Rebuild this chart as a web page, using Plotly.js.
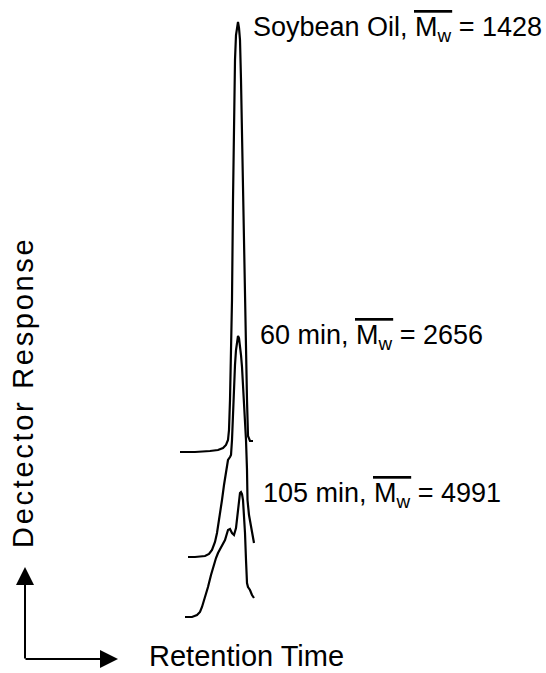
<!DOCTYPE html>
<html><head><meta charset="utf-8">
<script src="https://cdn.plot.ly/plotly-3.0.1.min.js"></script>
<style>html,body{margin:0;padding:0;background:#fff}</style>
</head><body>
<div id="chart" style="width:546px;height:673px"></div>
<script>
// Retention time (arbitrary units) and detector response (arbitrary units)
const soyTime = [180,195,210,218,223,226,228,229,230,232,233,234,235,236,237,238,239,240,241,242,243,244,245,246,247,248,249,250,253];
const soyResp = [221,221,222,223,225,228,233,243,273,373,473,553,613,638,648,651,645,633,593,533,473,423,373,323,273,237,233,232,232];

const min60Time = [188,195,205,209,212,215,217,220,222,224,226,228,230,231,232,233,234,235,236,237,238,239,240,241,242,243,244,245,246,247,247.5,249,251,253,254];
const min60Resp = [116,116,117,119,123,131,140,158,173,188,203,213,216,218,233,263,288,308,323,333,337,335,328,318,306,288,275,263,233,203,173,158,145,135,130];

const min105Time = [185,192,197,200,202,205,208,211,213,216,218,222,225,228,230,232,234,236,237,238,239,240,241,242,243,244,245,246,247,248,250,252,254];
const min105Resp = [56,56,58,61,66,75,86,98,106,115,120,127,133,143,144,140,138,145,153,166,175,180,181,179,173,158,140,113,90,86,83,78,75];

const seriesNames = ["Soybean Oil", "60 min", "105 min"];
const mwValues = [1428, 2656, 4991];
const xLabel = "Retention Time";
const yLabel = "Dectector Response";

const lineStyle = {color: "#000", width: 2.2};
const traces = [
  {x: soyTime, y: soyResp, name: seriesNames[0]},
  {x: min60Time, y: min60Resp, name: seriesNames[1]},
  {x: min105Time, y: min105Resp, name: seriesNames[2]}
].map(t => Object.assign(t, {type: "scatter", mode: "lines", line: lineStyle, hoverinfo: "skip"}));

const FAMILY = "Liberation Sans";
const font = {family: FAMILY + ", Arial, Helvetica, sans-serif", color: "#000"};
const LABEL_SIZE = 27;

// measure text widths so the overline bar sits exactly over "Mw"
const ctx = document.createElement("canvas").getContext("2d");
function textWidth(str, size) { ctx.font = size + "px '" + FAMILY + "'"; return ctx.measureText(str).width; }

const annotations = [];
function addLabel(i, x, yTop) {
  const prefix = seriesNames[i] + ", ";
  annotations.push({x: x, y: yTop, xref: "x", yref: "y", xanchor: "left", yanchor: "top",
    text: prefix + "M<sub>w</sub> = " + mwValues[i], showarrow: false,
    font: Object.assign({size: LABEL_SIZE}, font)});
  const barStart = x + textWidth(prefix, LABEL_SIZE) - 1;
  const barWidth = textWidth("M", LABEL_SIZE) + textWidth("w", LABEL_SIZE * 0.7) + 2;
  const n = 5;
  const spaceW = textWidth("\u00A0", LABEL_SIZE);
  const ls = (barWidth - n * spaceW) / n;
  annotations.push({x: barStart, y: yTop, xref: "x", yref: "y", xanchor: "left", yanchor: "top",
    text: '<span style="text-decoration:overline;letter-spacing:' + ls.toFixed(2) + 'px">' + "\u00A0".repeat(n) + '</span>',
    showarrow: false, font: Object.assign({size: LABEL_SIZE}, font)});
}
addLabel(0, 251, 663);
addLabel(1, 258, 355);
addLabel(2, 261, 197);

annotations.push(
  {x: 246, y: 17, xref: "x", yref: "y", xanchor: "center", yanchor: "middle",
    text: xLabel, showarrow: false, font: Object.assign({size: 29}, font)},
  {x: 23, y: 280, xref: "x", yref: "y", xanchor: "center", yanchor: "middle",
    text: '<span style="letter-spacing:2.7px">' + yLabel + '</span>', textangle: -90, showarrow: false,
    font: Object.assign({size: 29}, font)},
  {x: 25, y: 106, xref: "x", yref: "y", ax: 0, ay: 93, text: "", showarrow: true,
    arrowhead: 2, arrowsize: 1.8, arrowwidth: 2, arrowcolor: "#000"},
  {x: 118, y: 14, xref: "x", yref: "y", ax: -94, ay: 0, text: "", showarrow: true,
    arrowhead: 2, arrowsize: 1.8, arrowwidth: 2, arrowcolor: "#000"}
);

const layout = {
  width: 546, height: 673,
  margin: {l: 0, r: 0, t: 0, b: 0, pad: 0},
  paper_bgcolor: "#fff", plot_bgcolor: "#fff",
  showlegend: false,
  xaxis: {range: [0, 546], visible: false, fixedrange: true},
  yaxis: {range: [0, 673], visible: false, fixedrange: true},
  annotations: annotations
};

Plotly.newPlot("chart", traces, layout, {staticPlot: true, displayModeBar: false});
</script>
</body></html>
